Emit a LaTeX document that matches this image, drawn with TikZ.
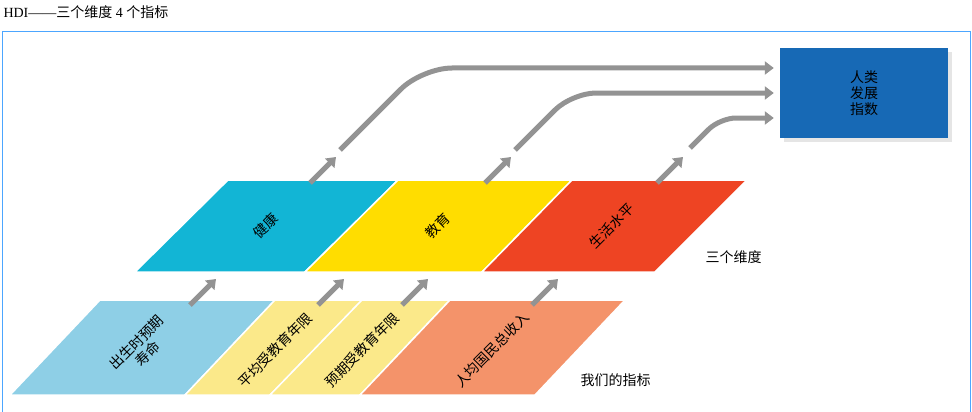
\documentclass[tikz,border=0pt]{standalone}
\usepackage{fontspec}
\setmainfont{Liberation Serif}
\newfontfamily\cjk{Noto Sans CJK SC}
\usetikzlibrary{arrows.meta,shadows}
\begin{document}
\begin{tikzpicture}[x=1pt,y=-1pt,
  lbl/.style={font=\cjk\fontsize{14}{16}\selectfont,align=center,text=black},
  garrow/.style={draw=gray!85,line width=5pt,-{Triangle[length=9pt,width=13pt]}},
  sep/.style={draw=white,line width=1.5pt}]
\useasboundingbox (0,0) rectangle (972,412);
\node[anchor=west,font=\fontsize{14}{16}\selectfont] (title) at (0,12) {HDI——{\cjk 三个维度} 4 {\cjk 个指标}};
\draw[draw=blue!50!cyan!70,line width=0.8pt] (2,412) -- (2,31) -- (970,31) -- (970,412);
% top row
\fill[sep,fill={rgb,255:red,18;green,181;blue,213}] (135,272) -- (305,272) -- (398,180) -- (228,180) -- cycle;
\fill[sep,fill={rgb,255:red,255;green,221;blue,0}] (305,272) -- (482,272) -- (572,180) -- (398,180) -- cycle;
\fill[sep,fill={rgb,255:red,238;green,68;blue,35}] (482,272) -- (655,272) -- (747,180) -- (572,180) -- cycle;
% bottom row
\fill[sep,fill={rgb,255:red,142;green,207;blue,230}] (10,395) -- (185,395) -- (275,300) -- (100,300) -- cycle;
\fill[sep,fill={rgb,255:red,251;green,233;blue,138}] (185,395) -- (270,395) -- (362,300) -- (275,300) -- cycle;
\fill[sep,fill={rgb,255:red,251;green,233;blue,138}] (270,395) -- (360,395) -- (450,300) -- (362,300) -- cycle;
\fill[sep,fill={rgb,255:red,244;green,147;blue,106}] (360,395) -- (535,395) -- (625,300) -- (450,300) -- cycle;
% labels
\node[lbl,rotate=45] (health) at (266,226) {健康};
\node[lbl,rotate=45] (edu) at (438,226) {教育};
\node[lbl,rotate=45] (life) at (612,226) {生活水平};
\node[lbl,rotate=45] (life_exp) at (142,348) {出生时预期\\寿命};
\node[lbl,rotate=45] (mys) at (275,350) {平均受教育年限};
\node[lbl,rotate=45] (eys) at (362,350) {预期受教育年限};
\node[lbl,rotate=45] (gni) at (492,350) {人均国民总收入};
\node[lbl,anchor=west] (dims) at (702,257) {三个维度};
\node[lbl,anchor=west] (inds) at (577,380) {我们的指标};
% HDI box
\node[draw=none,fill={rgb,255:red,23;green,105;blue,181},minimum width=168pt,minimum height=90pt,lbl,
  drop shadow={shadow xshift=4pt,shadow yshift=-4pt,fill=gray!40}] (hdi) at (864,93) {人类\\发展\\指数};
% small arrows
\coordinate (a1s) at (190,305); \coordinate (a1e) at (216,279);
\coordinate (a2s) at (318,305); \coordinate (a2e) at (344,279);
\coordinate (a3s) at (402,305); \coordinate (a3e) at (428,279);
\coordinate (a4s) at (532,305); \coordinate (a4e) at (558,279);
\coordinate (b1s) at (310,183); \coordinate (b1e) at (336,157);
\coordinate (b2s) at (485,183); \coordinate (b2e) at (511,157);
\coordinate (b3s) at (657,183); \coordinate (b3e) at (683,157);
\foreach \s/\e in {a1s/a1e,a2s/a2e,a3s/a3e,a4s/a4e,b1s/b1e,b2s/b2e,b3s/b3e}
  \draw[garrow] (\s) -- (\e);
% long arrows
\coordinate (c1) at (340,150); \coordinate (c2) at (515,150); \coordinate (c3) at (690,148);
\draw[garrow,rounded corners=30pt] (c1) -- (422,68) -- (hdi.west |- 0,68) -- ++(-6,0);
\draw[garrow,rounded corners=24pt] (c2) -- (572,93) -- (hdi.west |- 0,93) -- ++(-6,0);
\draw[garrow,rounded corners=16pt] (c3) -- (720,118) -- (hdi.west |- 0,118) -- ++(-6,0);
\end{tikzpicture}
\end{document}
